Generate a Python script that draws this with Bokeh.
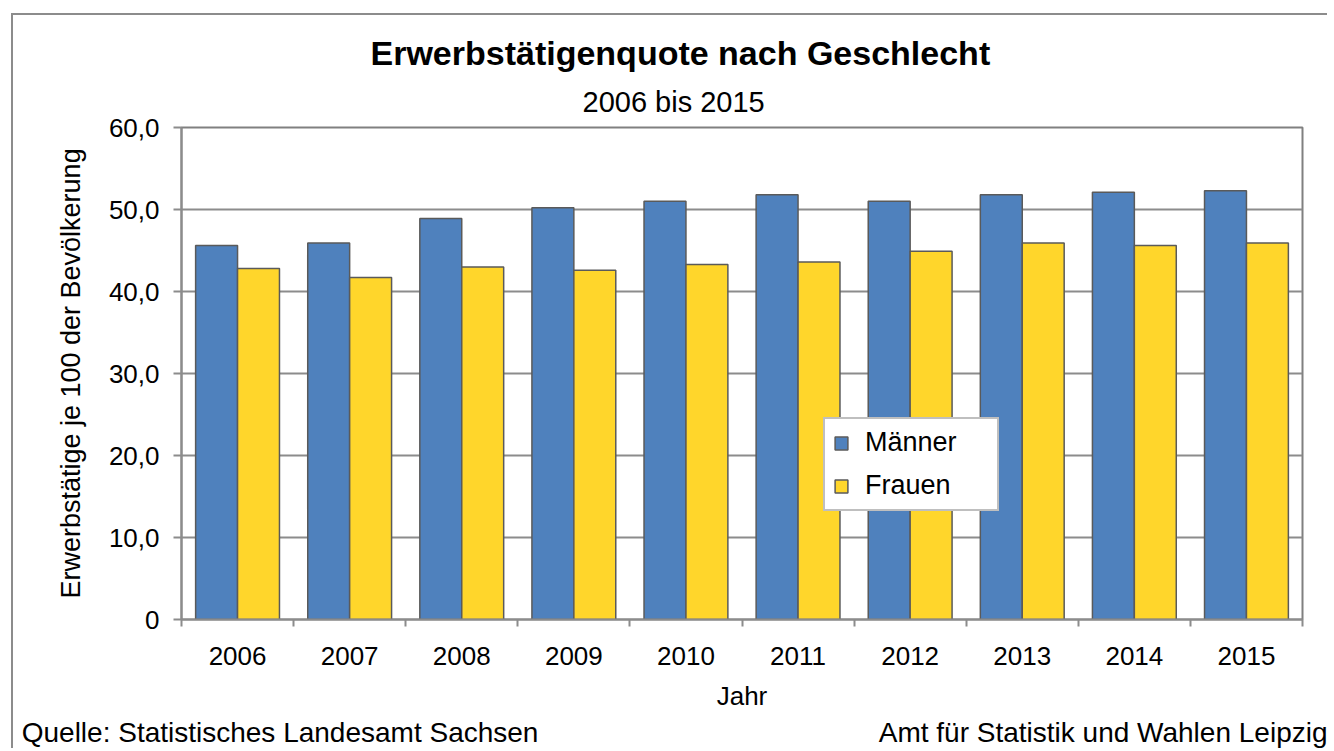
import numpy as np
from bokeh.plotting import figure
from bokeh.models import (Range1d, FixedTicker, Legend, LegendItem, Title,
                          LinearAxis, ColumnDataSource)
from bokeh.embed import file_html
from bokeh.resources import INLINE

# ---- data ----
years = ["2006", "2007", "2008", "2009", "2010", "2011", "2012", "2013", "2014", "2015"]
maenner = [45.6, 45.9, 48.9, 50.2, 51.0, 51.8, 51.0, 51.8, 52.1, 52.3]
frauen = [42.8, 41.7, 43.0, 42.6, 43.3, 43.6, 44.9, 45.9, 45.6, 45.9]
y_ticks = [0, 10, 20, 30, 40, 50, 60]
y_tick_labels = ["0", "10,0", "20,0", "30,0", "40,0", "50,0", "60,0"]
title_text = "Erwerbstätigenquote nach Geschlecht"
subtitle_text = "2006 bis 2015"
source_left = "Quelle:  Statistisches Landesamt Sachsen"
source_right = "Amt für Statistik und Wahlen Leipzig"

FONT = "Liberation Sans"
BLUE = "#4F81BD"
YELLOW = "#FFD62B"
EDGE = "#5A5A5A"
GRAY = "#8C8C8C"

idx = np.arange(len(years))
centers = idx + 0.5
bar_w = 0.374
off = 0.187

src = ColumnDataSource(dict(xm=centers - off, xf=centers + off, m=maenner, f=frauen))

p = figure(width=1316, height=735, output_backend="svg", toolbar_location=None,
           title=None,
           x_range=Range1d(0, len(years)), y_range=Range1d(0, 60),
           min_border_left=168, min_border_right=27, min_border_top=112,
           min_border_bottom=131)
p.styles = {"border-top": "2px solid #8C8C8C", "border-left": "2px solid #8C8C8C",
            "margin-left": "11px", "margin-top": "13px"}
p.background_fill_color = "white"
p.border_fill_color = "white"
p.outline_line_color = "#808080"
p.outline_line_width = 2

rm = p.vbar(x="xm", top="m", width=bar_w, source=src, fill_color=BLUE,
            line_color=EDGE, line_width=1.5)
rf = p.vbar(x="xf", top="f", width=bar_w, source=src, fill_color=YELLOW,
            line_color=EDGE, line_width=1.5)

# y axis
yax = p.yaxis[0]
yax.ticker = FixedTicker(ticks=y_ticks)
yax.major_label_overrides = {t: l for t, l in zip(y_ticks, y_tick_labels)}
yax.axis_line_color = GRAY
yax.axis_line_width = 2
yax.major_tick_line_color = GRAY
yax.major_tick_line_width = 2
yax.major_tick_out = 8
yax.major_tick_in = 0
yax.minor_tick_line_color = None
yax.major_label_text_font = FONT
yax.major_label_text_font_size = "26px"
yax.major_label_text_color = "black"
yax.major_label_standoff = 14
yax.axis_label = "Erwerbstätige je 100 der Bevölkerung"
yax.axis_label_text_font = FONT
yax.axis_label_text_font_size = "27px"
yax.axis_label_text_font_style = "normal"
yax.axis_label_text_color = "black"
yax.axis_label_standoff = 20

# x axis: labels at centers, tick marks at boundaries
xax = p.xaxis[0]
xax.ticker = FixedTicker(ticks=list(centers), minor_ticks=list(range(len(years) + 1)))
xax.major_label_overrides = {float(c): y for c, y in zip(centers, years)}
xax.axis_line_color = GRAY
xax.axis_line_width = 2
xax.major_tick_line_color = None
xax.major_tick_out = 0
xax.major_tick_in = 0
xax.minor_tick_line_color = GRAY
xax.minor_tick_line_width = 2
xax.minor_tick_out = 7
xax.minor_tick_in = 0
xax.major_label_text_font = FONT
xax.major_label_text_font_size = "26px"
xax.major_label_text_color = "black"
xax.major_label_standoff = 20
xax.axis_label = "Jahr"
xax.axis_label_text_font = FONT
xax.axis_label_text_font_size = "26px"
xax.axis_label_text_font_style = "normal"
xax.axis_label_text_color = "black"
xax.axis_label_standoff = 13

# footer line (source notes) as an extra, line-less axis below
foot_pos = [0.914, 8.32]
foot_ax = LinearAxis(ticker=FixedTicker(ticks=foot_pos),
                     major_label_overrides={foot_pos[0]: source_left,
                                            foot_pos[1]: source_right})
foot_ax.axis_line_color = None
foot_ax.major_tick_line_color = None
foot_ax.minor_tick_line_color = None
foot_ax.major_tick_out = 0
foot_ax.major_tick_in = 0
foot_ax.major_label_standoff = 3
foot_ax.major_label_text_font = FONT
foot_ax.major_label_text_font_size = "28px"
foot_ax.major_label_text_color = "black"
p.add_layout(foot_ax, "below")

p.xgrid.grid_line_color = None
p.ygrid.ticker = FixedTicker(ticks=y_ticks)
p.ygrid.grid_line_color = GRAY
p.ygrid.grid_line_width = 2

# titles (subtitle first = closest to plot)
p.add_layout(Title(text=subtitle_text, align="left", offset=401,
                   text_font=FONT, text_font_size="29px", text_font_style="normal",
                   text_color="black", standoff=19), "above")
p.add_layout(Title(text=title_text, align="left", offset=189,
                   text_font=FONT, text_font_size="34px", text_font_style="bold",
                   text_color="black", standoff=5), "above")

# legend
legend = Legend(items=[LegendItem(label="Männer", renderers=[rm]),
                       LegendItem(label="Frauen", renderers=[rf])],
                location=(642, 108), orientation="vertical",
                padding=8, spacing=12, glyph_width=16, glyph_height=16,
                label_standoff=16, label_width=124, margin=0,
                label_text_font=FONT, label_text_font_size="27px",
                label_text_color="black",
                border_line_color="#808080", border_line_width=2,
                background_fill_color="white", background_fill_alpha=1)
p.add_layout(legend, "center")

open("out.html", "w").write(file_html(p, INLINE))
